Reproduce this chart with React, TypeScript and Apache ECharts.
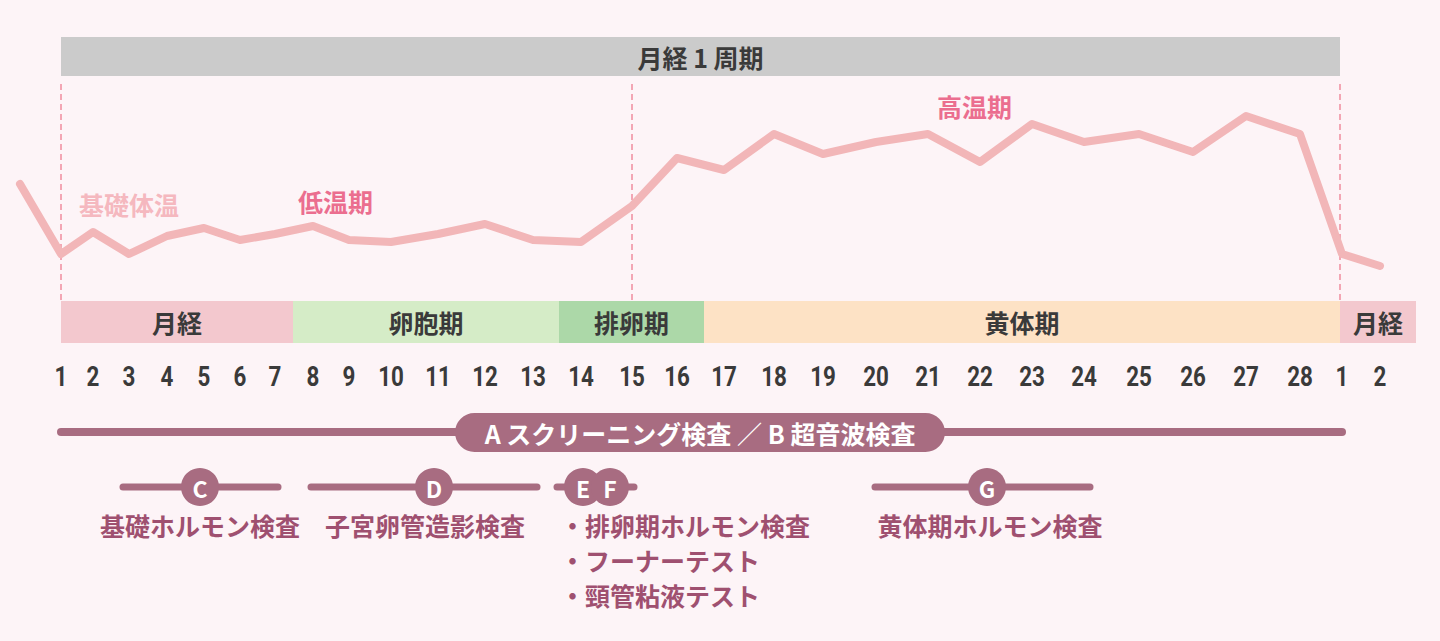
import React, { useEffect, useRef } from 'react';
import * as echarts from 'echarts';

// ---- data ----
const dayLabels = ['1','2','3','4','5','6','7','8','9','10','11','12','13','14','15','16','17','18','19','20','21','22','23','24','25','26','27','28','1','2'];
// position of each day along the horizontal axis (axis units)
const dayPos = [61,93,129,167,204,240,275,313,349,391,438,485,533,581,632,677,724,774,823,876,928,980,1032,1084,1139,1193,1246,1300,1342,1380];
// basal body temperature (°C) for each day
const temps = [36.23,36.34,36.23,36.32,36.36,36.30,36.33,36.37,36.30,36.29,36.33,36.38,36.30,36.29,36.47,36.71,36.65,36.83,36.73,36.79,36.83,36.69,36.88,36.79,36.83,36.74,36.92,36.83,36.23,36.17];
const prevDayPos = 20;
const prevTemp = 36.58;

const phaseNames = ['月経','卵胞期','排卵期','黄体期','月経'];
const phaseStart = [61,293,559,704,1340];
const phaseEnd = [293,559,704,1340,1416];
const phaseColors = ['#f3c8ce','#d5ecc7','#acd8a8','#fde2c5','#f3c8ce'];

const cycleLabel = '月経 1 周期';
const cycleStart = 61;
const cycleEnd = 1340;
const dividerPos = [61,632,1340];

const JP = '"Noto Sans CJK JP", "Noto Sans", sans-serif';
const MAUVE = '#a86c81';
const MAUVE_TEXT = '#9f5070';
const DARK = '#3a3a3a';

export default function App() {
  const ref = useRef<HTMLDivElement>(null);
  useEffect(() => {
    if (!ref.current) return;
    const chart = echarts.init(ref.current, null, { renderer: 'svg' });

    const xAx = (g: number) => ({ type: 'value', gridIndex: g, min: 0, max: 1440, show: false });
    const yAx = (g: number, min = 0, max = 1) => ({ type: 'value', gridIndex: g, min, max, show: false });

    const lineData = [[prevDayPos, prevTemp], ...dayPos.map((x, i) => [x, temps[i]])];

    const bottomLine = (x1: number, x2: number, y: number, w = 7) => ({
      type: 'line', shape: { x1, y1: y, x2, y2: y },
      style: { stroke: MAUVE, lineWidth: w, lineCap: 'round' },
    });
    const badge = (cx: number, cy: number, letter: string) => ([
      { type: 'circle', shape: { cx, cy, r: 19 }, style: { fill: MAUVE } },
      { type: 'text', x: cx, y: cy + 1, style: { text: letter, fill: '#ffffff', font: `bold 23px ${JP}`, align: 'center', verticalAlign: 'middle' } },
    ]);
    const label = (x: number, y: number, text: string, align = 'center') => ({
      type: 'text', x, y, style: { text, fill: MAUVE_TEXT, font: `bold 25px ${JP}`, align, verticalAlign: 'middle' },
    });

    const option: any = {
      animation: false,
      backgroundColor: '#fdf4f7',
      grid: [
        { left: 0, right: 0, top: 80, height: 220 },
        { left: 0, right: 0, top: 301, height: 42 },
        { left: 0, right: 0, top: 37, height: 39 },
        { left: 0, right: 0, top: 360, height: 32 },
      ],
      xAxis: [xAx(0), xAx(1), xAx(2), xAx(3)],
      yAxis: [yAx(0, 36.0, 37.1), yAx(1), yAx(2), yAx(3)],
      series: [
        {
          type: 'line', xAxisIndex: 0, yAxisIndex: 0, data: lineData,
          symbol: 'none', showSymbol: false, z: 5,
          lineStyle: { color: '#f2b6b8', width: 8, cap: 'round', join: 'round' },
          markLine: {
            silent: true, symbol: ['none', 'none'], label: { show: false },
            lineStyle: { color: '#f3a6b4', width: 2, type: [6, 4] },
            data: dividerPos.map((x) => ({ xAxis: x })),
          },
        },
        {
          type: 'custom', xAxisIndex: 1, yAxisIndex: 1,
          data: phaseNames.map((n, i) => [phaseStart[i], phaseEnd[i], i]),
          renderItem: (params: any, api: any) => {
            const i = params.dataIndex;
            const p0 = api.coord([api.value(0), 1]);
            const p1 = api.coord([api.value(1), 0]);
            return {
              type: 'rect',
              shape: { x: p0[0], y: p0[1], width: p1[0] - p0[0], height: p1[1] - p0[1] },
              style: { fill: phaseColors[i] },
              textContent: { style: { text: phaseNames[i], fill: DARK, font: `bold 25px ${JP}` } },
              textConfig: { position: 'inside' },
            };
          },
        },
        {
          type: 'custom', xAxisIndex: 2, yAxisIndex: 2,
          data: [[cycleStart, cycleEnd]],
          renderItem: (params: any, api: any) => {
            const p0 = api.coord([api.value(0), 1]);
            const p1 = api.coord([api.value(1), 0]);
            return {
              type: 'rect',
              shape: { x: p0[0], y: p0[1], width: p1[0] - p0[0], height: p1[1] - p0[1] },
              style: { fill: '#cbcbcb' },
              textContent: { style: { text: cycleLabel, fill: DARK, font: `bold 25px ${JP}` } },
              textConfig: { position: 'inside' },
            };
          },
        },
        {
          type: 'custom', xAxisIndex: 3, yAxisIndex: 3,
          data: dayPos.map((x, i) => [x, i]),
          renderItem: (params: any, api: any) => {
            const i = params.dataIndex;
            const p = api.coord([api.value(0), 0.5]);
            return {
              type: 'text', x: p[0], y: p[1], scaleX: 0.8,
              style: {
                text: dayLabels[i], fill: DARK,
                font: 'bold 28px Roboto, sans-serif',
                align: 'center', verticalAlign: 'middle',
              },
            };
          },
        },
      ],
      graphic: [
        { type: 'text', left: 79, top: 191, style: { text: '基礎体温', fill: '#f5b8bf', font: `bold 25px ${JP}` } },
        { type: 'text', left: 298, top: 188, style: { text: '低温期', fill: '#eb6e8f', font: `bold 25px ${JP}` } },
        { type: 'text', left: 937, top: 93, style: { text: '高温期', fill: '#eb6e8f', font: `bold 25px ${JP}` } },

        bottomLine(61, 1342, 432, 8),
        { type: 'rect', shape: { x: 455, y: 413, width: 490, height: 39, r: 19.5 }, style: { fill: MAUVE } },
        { type: 'text', x: 700, y: 433, style: { text: 'A スクリーニング検査 ／ B 超音波検査', fill: '#ffffff', font: `bold 25px ${JP}`, align: 'center', verticalAlign: 'middle' } },

        bottomLine(123, 278, 487),
        ...badge(200, 487, 'C'),
        label(200, 525, '基礎ホルモン検査'),

        bottomLine(311, 537, 487),
        ...badge(434, 487, 'D'),
        label(425, 525, '子宮卵管造影検査'),

        bottomLine(557, 634, 487),
        ...badge(583, 487, ''),
        ...badge(610, 487, ''),
        { type: 'text', x: 583, y: 488, style: { text: 'E', fill: '#ffffff', font: `bold 23px ${JP}`, align: 'center', verticalAlign: 'middle' } },
        { type: 'text', x: 610, y: 488, style: { text: 'F', fill: '#ffffff', font: `bold 23px ${JP}`, align: 'center', verticalAlign: 'middle' } },
        label(560, 525, '・排卵期ホルモン検査', 'left'),
        label(560, 560, '・フーナーテスト', 'left'),
        label(560, 595, '・頸管粘液テスト', 'left'),

        bottomLine(875, 1090, 487),
        ...badge(987, 487, 'G'),
        label(990, 525, '黄体期ホルモン検査'),
      ],
    };
    chart.setOption(option);
    return () => chart.dispose();
  }, []);
  return <div ref={ref} style={{ position: 'absolute', left: 0, top: 0, width: 1440, height: 641 }} />;
}
